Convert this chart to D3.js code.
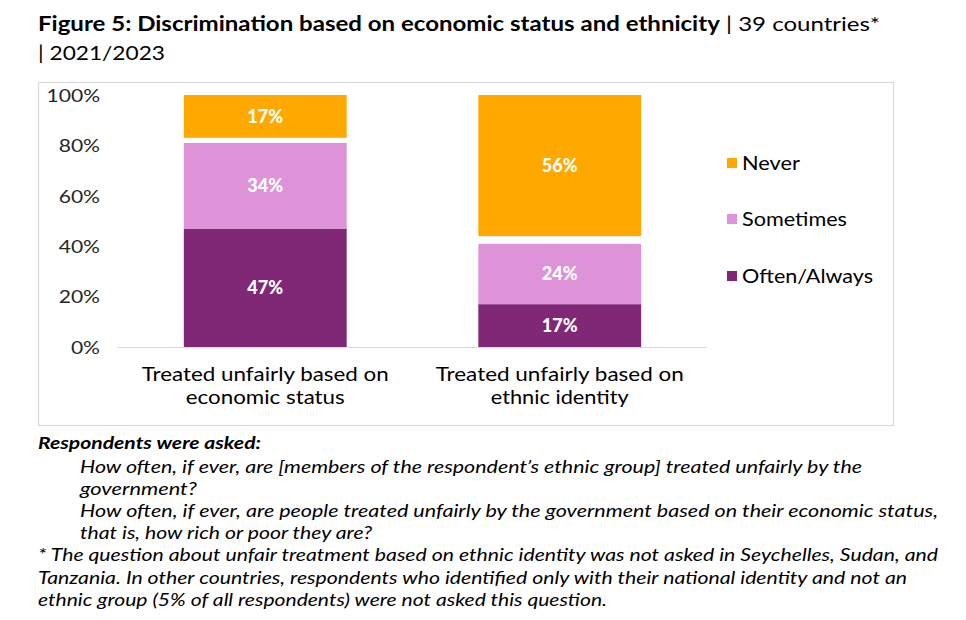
<!DOCTYPE html>
<html>
<head>
<meta charset="utf-8">
<script src="https://cdn.jsdelivr.net/npm/d3@7"></script>
<style>
  html, body { margin: 0; padding: 0; background: #fff; }
  svg { display: block; font-family: "Lato", "DejaVu Sans", sans-serif; }
</style>
</head>
<body>
<svg id="chart" width="966" height="620"></svg>
<script>
// ---- data ----
const categories = [
  ["Treated unfairly based on", "economic status"],
  ["Treated unfairly based on", "ethnic identity"]
];
const seriesNames = ["Often/Always", "Sometimes", "Don't know", "Never"];
const oftenAlways = [47, 17];
const sometimes = [34, 24];
const dontKnow = [2, 3];
const never = [17, 56];
const yTicks = [0, 20, 40, 60, 80, 100];
const legendOrder = ["Never", "Sometimes", "Often/Always"];

const colors = {
  "Often/Always": "#802876",
  "Sometimes": "#DE93D8",
  "Don't know": "#FFFFFF",
  "Never": "#FFA900"
};

const rows = categories.map((c, i) => ({
  key: i,
  "Often/Always": oftenAlways[i],
  "Sometimes": sometimes[i],
  "Don't know": dontKnow[i],
  "Never": never[i]
}));

const svg = d3.select("#chart");

function stretch(sel, factor) {
  sel.each(function () {
    const w = this.getComputedTextLength();
    d3.select(this).attr("textLength", w * factor).attr("lengthAdjust", "spacingAndGlyphs");
  });
}

// title
const title = svg.append("text").attr("x", 38).attr("y", 31)
  .attr("font-size", 20).attr("fill", "#000");
title.append("tspan").attr("font-weight", "bold")
  .text("Figure 5: Discrimination based on economic status and ethnicity");
title.append("tspan").text(" | 39 countries*");
title.attr("textLength", 842).attr("lengthAdjust", "spacingAndGlyphs");
svg.append("text").attr("x", 38).attr("y", 60).attr("font-size", 20).attr("fill", "#000")
  .attr("textLength", 127).attr("lengthAdjust", "spacingAndGlyphs")
  .text("| 2021/2023");

// chart frame
svg.append("rect").attr("x", 38.5).attr("y", 82.5).attr("width", 855).attr("height", 343)
  .attr("fill", "none").attr("stroke", "#d9d9d9").attr("stroke-width", 1.2);

// scales
const x = d3.scaleBand().domain(rows.map(r => r.key)).range([118, 707]).paddingInner(0.447).paddingOuter(0.2235);
const y = d3.scaleLinear().domain([0, 100]).range([347, 95]);

const stack = d3.stack().keys(seriesNames);
const stacked = stack(rows);

// y axis
const yAxis = d3.axisLeft(y).tickValues(yTicks).tickFormat(d => d + "%").tickSize(0).tickPadding(0);
const yg = svg.append("g").attr("transform", "translate(100,0)").call(yAxis);
yg.select(".domain").remove();
yg.selectAll("text").attr("font-size", 18).attr("fill", "#262626")
  .attr("font-family", "Lato, sans-serif").attr("dy", "0.35em");
stretch(yg.selectAll("text"), 1.17);

// baseline
svg.append("line").attr("x1", 118).attr("x2", 707).attr("y1", 347.5).attr("y2", 347.5)
  .attr("stroke", "#d9d9d9").attr("stroke-width", 1.2);

// bars
const g = svg.append("g");
stacked.forEach(layer => {
  g.selectAll(null).data(layer).enter().append("rect")
    .attr("x", d => x(d.data.key))
    .attr("width", x.bandwidth())
    .attr("y", d => y(d[1]))
    .attr("height", d => y(d[0]) - y(d[1]))
    .attr("fill", colors[layer.key]);
  if (layer.key !== "Don't know") {
    g.selectAll(null).data(layer).enter().append("text")
      .attr("x", d => x(d.data.key) + x.bandwidth() / 2)
      .attr("y", d => (y(d[0]) + y(d[1])) / 2)
      .attr("dy", "0.36em")
      .attr("text-anchor", "middle")
      .attr("font-size", 18).attr("font-weight", "900").attr("fill", "#fff")
      .text(d => (d[1] - d[0]) + "%");
  }
});

// category labels
const catWidths = [[247, 159], [248, 138]];
rows.forEach((r, i) => {
  const cx = x(r.key) + x.bandwidth() / 2;
  [0, 1].forEach(j => {
    svg.append("text").attr("text-anchor", "middle").attr("font-size", 19).attr("fill", "#000")
      .attr("x", cx).attr("y", j === 0 ? 381 : 404)
      .attr("textLength", catWidths[i][j]).attr("lengthAdjust", "spacingAndGlyphs")
      .text(categories[i][j]);
  });
});

// legend
const legendY = [163, 219, 276];
const legendW = [58, 105, 131];
legendOrder.forEach((name, i) => {
  svg.append("rect").attr("x", 727).attr("y", legendY[i] - 5).attr("width", 10).attr("height", 10)
    .attr("fill", colors[name]);
  svg.append("text").attr("x", 742).attr("y", legendY[i]).attr("dy", "0.35em")
    .attr("font-size", 19).attr("fill", "#000")
    .attr("textLength", legendW[i]).attr("lengthAdjust", "spacingAndGlyphs")
    .text(name);
});

// footnotes
const notes = [
  { t: "Respondents were asked:", x: 38, y: 449, w: 223, bold: true },
  { t: "How often, if ever, are [members of the respondent\u2019s ethnic group] treated unfairly by the", x: 80, y: 473, w: 782 },
  { t: "government?", x: 80, y: 495, w: 117 },
  { t: "How often, if ever, are people treated unfairly by the government based on their economic status,", x: 80, y: 517, w: 858 },
  { t: "that is, how rich or poor they are?", x: 80, y: 539, w: 292 },
  { t: "* The question about unfair treatment based on ethnic identity was not asked in Seychelles, Sudan, and", x: 38, y: 561, w: 900 },
  { t: "Tanzania. In other countries, respondents who identified only with their national identity and not an", x: 38, y: 584, w: 869 },
  { t: "ethnic group (5% of all respondents) were not asked this question.", x: 38, y: 606, w: 569 }
];
notes.forEach(n => {
  svg.append("text").attr("x", n.x).attr("y", n.y)
    .attr("font-size", 17).attr("font-style", "italic")
    .attr("font-weight", n.bold ? "bold" : "normal").attr("fill", "#000")
    .attr("textLength", n.w).attr("lengthAdjust", "spacingAndGlyphs")
    .text(n.t);
});
</script>
</body>
</html>
